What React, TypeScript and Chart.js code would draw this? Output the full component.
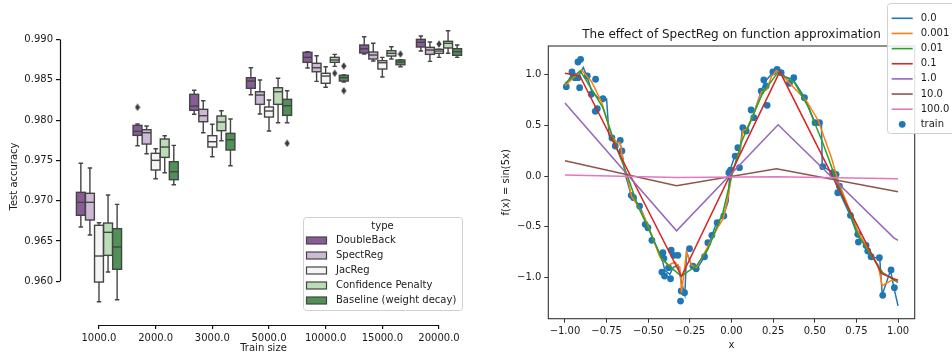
import React, { useEffect, useRef } from 'react';
import { Chart, registerables } from 'chart.js';
Chart.register(...registerables);

// ---------------- data: left panel ----------------
const trainSizes = ['1000.0', '2000.0', '3000.0', '5000.0', '10000.0', '15000.0', '20000.0'];
const methods = ['DoubleBack', 'SpectReg', 'JacReg', 'Confidence Penalty', 'Baseline (weight decay)'];
const methodColors = ['#885c96', '#ccb9d4', '#f5f5f5', '#bbdcb7', '#509158'];
const yTicksLeft = [0.96, 0.965, 0.97, 0.975, 0.98, 0.985, 0.99];

// [whisker low, q1, median, q3, whisker high] per train size
const doubleBack = [
  [0.96674, 0.96819, 0.9698, 0.97104, 0.97464],
  [0.97682, 0.97811, 0.97861, 0.97935, 0.97952],
  [0.98072, 0.98122, 0.98175, 0.9832, 0.9837],
  [0.98315, 0.98395, 0.98485, 0.98526, 0.9865],
  [0.98646, 0.98717, 0.98779, 0.98841, 0.9885],
  [0.9882, 0.98833, 0.98886, 0.98932, 0.99035],
  [0.98857, 0.98907, 0.98965, 0.99002, 0.99043],
];
const spectReg = [
  [0.96574, 0.96761, 0.9698, 0.97092, 0.97406],
  [0.97583, 0.97703, 0.97844, 0.97881, 0.97927],
  [0.97844, 0.9798, 0.98055, 0.98134, 0.98241],
  [0.98076, 0.98196, 0.98311, 0.98352, 0.98498],
  [0.98481, 0.986, 0.9865, 0.98705, 0.98799],
  [0.98733, 0.98758, 0.98808, 0.98845, 0.98953],
  [0.98729, 0.98816, 0.9887, 0.98903, 0.98969],
];
const jacReg = [
  [0.95747, 0.95991, 0.96314, 0.96695, 0.96727],
  [0.97273, 0.97381, 0.97501, 0.97588, 0.97645],
  [0.97546, 0.97666, 0.97732, 0.97807, 0.97948],
  [0.97865, 0.98038, 0.98113, 0.98163, 0.9825],
  [0.98407, 0.98457, 0.98547, 0.98581, 0.98662],
  [0.98535, 0.98634, 0.98712, 0.98737, 0.98779],
  [0.98779, 0.98829, 0.98857, 0.98878, 0.9888],
];
const confPenalty = [
  [0.96115, 0.96322, 0.96608, 0.96723, 0.97071],
  [0.97347, 0.97538, 0.97666, 0.97766, 0.97807],
  [0.97744, 0.97869, 0.97976, 0.98051, 0.98117],
  [0.97968, 0.98196, 0.98352, 0.98402, 0.98519],
  [0.98667, 0.98717, 0.98746, 0.98779, 0.98816],
  [0.98758, 0.98795, 0.98829, 0.98861, 0.98911],
  [0.98829, 0.98895, 0.98953, 0.98978, 0.99109],
];
const baseline = [
  [0.95772, 0.96149, 0.96426, 0.96653, 0.96955],
  [0.97199, 0.97261, 0.9736, 0.97484, 0.97687],
  [0.97434, 0.97629, 0.97757, 0.97836, 0.98014],
  [0.97968, 0.98059, 0.98179, 0.98258, 0.98365],
  [0.98473, 0.98485, 0.98526, 0.98556, 0.9856],
  [0.98662, 0.98687, 0.98721, 0.98746, 0.9875],
  [0.98779, 0.98804, 0.98849, 0.98886, 0.98932],
];
const boxSeries = [doubleBack, spectReg, jacReg, confPenalty, baseline];
// [method index, train-size index, value]
const outliers = [
  [0, 1, 0.98159],
  [4, 3, 0.97712],
  [3, 4, 0.98581],
  [4, 4, 0.98671],
  [4, 4, 0.98365],
  [4, 5, 0.9882],
  [2, 6, 0.98944],
];

// ---------------- data: right panel ----------------
const lambdas = ['0.0', '0.001', '0.01', '0.1', '1.0', '10.0', '100.0'];
const lineColors = ['#1f77b4', '#ff7f0e', '#2ca02c', '#d62728', '#9467bd', '#8c564b', '#e377c2'];
const xTicksRight = [-1, -0.75, -0.5, -0.25, 0, 0.25, 0.5, 0.75, 1];
const yTicksRight = [-1, -0.5, 0, 0.5, 1];

const fit0 = [
  [-1, 0.88], [-0.96, 1.0], [-0.92, 0.98], [-0.89, 1.07], [-0.87, 0.99], [-0.84, 0.84], [-0.8, 0.77],
  [-0.75, 0.76], [-0.735, 0.4], [-0.7, 0.33], [-0.67, 0.34], [-0.66, 0.25], [-0.635, 0.0], [-0.6, -0.2],
  [-0.55, -0.3], [-0.5, -0.5], [-0.47, -0.63], [-0.42, -0.8], [-0.4, -0.93], [-0.37, -0.97], [-0.35, -0.9],
  [-0.32, -0.88], [-0.3, -1.05], [-0.28, -1.17], [-0.27, -0.75], [-0.24, -0.88], [-0.21, -0.92],
  [-0.16, -0.79], [-0.12, -0.6], [-0.09, -0.46], [-0.05, -0.4], [-0.02, -0.25], [-0.01, 0.05], [0.02, 0.2],
  [0.05, 0.22], [0.065, 0.47], [0.09, 0.44], [0.13, 0.6], [0.18, 0.84], [0.2, 0.93], [0.25, 1.02],
  [0.28, 1.05], [0.32, 0.98], [0.37, 0.95], [0.44, 0.77], [0.5, 0.53], [0.54, 0.52], [0.545, 0.1],
  [0.6, 0.04], [0.64, -0.13], [0.71, -0.38], [0.76, -0.6], [0.81, -0.69], [0.84, -0.8], [0.89, -0.81],
  [0.905, -1.17], [0.955, -0.93], [0.975, -1.1], [1.0, -1.28],
];
const fit0001 = [
  [-1, 0.89], [-0.9, 1.045], [-0.84, 0.93], [-0.78, 0.73], [-0.72, 0.4], [-0.69, 0.33], [-0.67, 0.33],
  [-0.64, 0.05], [-0.62, -0.05], [-0.6, -0.2], [-0.58, -0.25], [-0.53, -0.38], [-0.48, -0.58], [-0.43, -0.8],
  [-0.38, -0.88], [-0.34, -0.85], [-0.31, -0.9], [-0.3, -1.15], [-0.27, -0.75], [-0.24, -0.88], [-0.21, -0.9],
  [-0.15, -0.72], [-0.08, -0.5], [-0.05, -0.42], [-0.02, -0.2], [0, 0], [0.05, 0.25], [0.07, 0.45],
  [0.09, 0.46], [0.13, 0.6], [0.18, 0.83], [0.21, 0.85], [0.24, 0.98], [0.27, 1.04], [0.33, 0.95],
  [0.45, 0.74], [0.52, 0.55], [0.6, 0.18], [0.64, -0.05], [0.72, -0.38], [0.76, -0.55], [0.82, -0.72],
  [0.88, -0.88], [0.905, -1.08], [0.96, -1.03], [1, -1.02],
];
const fit001 = [
  [-1, 0.914], [-0.908, 1.036], [-0.772, 0.674], [-0.702, 0.328], [-0.628, 0.017], [-0.562, -0.296],
  [-0.482, -0.575], [-0.422, -0.806], [-0.362, -0.904], [-0.302, -0.986], [-0.212, -0.888], [-0.142, -0.723],
  [-0.052, -0.362], [-0.002, -0.017], [0.058, 0.328], [0.128, 0.592], [0.188, 0.821], [0.278, 1.019],
  [0.378, 0.92], [0.458, 0.69], [0.548, 0.328], [0.628, -0.033], [0.718, -0.394], [0.758, -0.575],
  [0.808, -0.707], [0.908, -0.953], [1, -1.052],
];
const fit01 = [[-1, 1.013], [-0.91, 0.985], [-0.3, -0.99], [0.29, 1.03], [0.9, -0.96], [1, -1.03]];
const fit1 = [[-1, 0.72], [-0.33, -0.54], [0.28, 0.505], [0.975, -0.61], [1, -0.635]];
const fit10 = [[-1, 0.15], [-0.33, -0.097], [0.27, 0.072], [1, -0.155]];
const fit100 = [[-1, 0.01], [-0.33, -0.015], [0.27, -0.008], [1, -0.027]];
const fits = [fit0, fit0001, fit001, fit01, fit1, fit10, fit100];

const trainPts = [
  [-0.992, 0.881], [-0.958, 1.026], [-0.95, 0.99], [-0.94, 0.97], [-0.922, 1.124], [-0.906, 1.151],
  [-0.922, 0.97], [-0.912, 0.871], [-0.866, 0.986], [-0.816, 0.954], [-0.842, 0.806], [-0.772, 0.762],
  [-0.818, 0.638], [-0.806, 0.664], [-0.718, 0.375], [-0.668, 0.352], [-0.698, 0.296], [-0.658, 0.247],
  [-0.602, -0.19], [-0.588, -0.214], [-0.552, -0.296], [-0.518, -0.476], [-0.502, -0.51], [-0.478, -0.634],
  [-0.412, -0.756], [-0.406, -0.812], [-0.362, -0.73], [-0.346, -0.782], [-0.322, -0.782], [-0.418, -0.947],
  [-0.402, -0.986], [-0.366, -1.013], [-0.378, -0.904], [-0.306, -1.233], [-0.302, -1.134], [-0.282, -1.151],
  [-0.252, -0.717], [-0.232, -0.888], [-0.212, -0.914], [-0.162, -0.796], [-0.142, -0.658], [-0.118, -0.585],
  [-0.086, -0.46], [-0.046, -0.394], [-0.006, 0.059], [-0.016, 0.033], [0.022, 0.197], [0.038, 0.279],
  [0.048, 0.082], [0.068, 0.476], [0.088, 0.444], [0.118, 0.651], [0.134, 0.575], [0.178, 0.838],
  [0.194, 0.947], [0.214, 0.697], [0.208, 0.888], [0.248, 1.026], [0.274, 1.052], [0.298, 1.019],
  [0.348, 0.914], [0.374, 0.97], [0.438, 0.772], [0.502, 0.526], [0.528, 0.526], [0.548, 0.092],
  [0.608, 0.033], [0.628, 0.017], [0.638, -0.165], [0.648, -0.099], [0.714, -0.388], [0.758, -0.575],
  [0.762, -0.651], [0.808, -0.684], [0.818, -0.74], [0.838, -0.796], [0.888, -0.806], [0.908, -1.177],
  [0.958, -0.927], [0.978, -1.101],
];

// ---------------- styling ----------------
const FONT = '"DejaVu Sans", sans-serif';
const TXT = '#1a1a1a';
const EDGE = '#444444';
const HUE_STEP = 0.16;
Chart.defaults.font.family = FONT;
Chart.defaults.font.size = 10;
Chart.defaults.color = TXT;

const fmtMinus = (s: string) => s.replace('-', '\u2212');

function makeDiamond() {
  const c = document.createElement('canvas');
  c.width = 6; c.height = 8;
  const g = c.getContext('2d')!;
  g.fillStyle = '#3c3c3c';
  g.beginPath();
  g.moveTo(3, 0.3); g.lineTo(5.6, 4); g.lineTo(3, 7.7); g.lineTo(0.4, 4);
  g.closePath(); g.fill();
  return c;
}

const boxPlugin = {
  id: 'boxes',
  beforeDatasetsDraw(chart: any) {
    const { ctx, scales: { x, y } } = chart;
    ctx.save();
    ctx.lineWidth = 1.4;
    ctx.strokeStyle = EDGE;
    boxSeries.forEach((series, k) => {
      series.forEach((st, g) => {
        const c = g + (k - 2) * HUE_STEP;
        const l = x.getPixelForValue(c - HUE_STEP * 0.49);
        const r = x.getPixelForValue(c + HUE_STEP * 0.49);
        const cl = x.getPixelForValue(c - HUE_STEP * 0.245);
        const cr = x.getPixelForValue(c + HUE_STEP * 0.245);
        const xc = x.getPixelForValue(c);
        const [lo, q1, med, q3, hi] = st.map((v) => y.getPixelForValue(v));
        ctx.beginPath();
        ctx.moveTo(xc, q1); ctx.lineTo(xc, lo);
        ctx.moveTo(xc, q3); ctx.lineTo(xc, hi);
        ctx.moveTo(cl, lo); ctx.lineTo(cr, lo);
        ctx.moveTo(cl, hi); ctx.lineTo(cr, hi);
        ctx.stroke();
        ctx.fillStyle = methodColors[k];
        ctx.fillRect(l, q3, r - l, q1 - q3);
        ctx.strokeRect(l, q3, r - l, q1 - q3);
        ctx.beginPath();
        ctx.moveTo(l, med); ctx.lineTo(r, med);
        ctx.stroke();
      });
    });
    ctx.restore();
  },
};

const leftDecor = {
  id: 'leftDecor',
  afterDraw(chart: any) {
    const { ctx, chartArea, scales: { x, y } } = chart;
    ctx.save();
    ctx.strokeStyle = '#111';
    ctx.lineWidth = 1.2;
    ctx.beginPath();
    const lx = Math.round(chartArea.left) + 0.5;
    ctx.moveTo(lx, y.getPixelForValue(yTicksLeft[yTicksLeft.length - 1]));
    ctx.lineTo(lx, y.getPixelForValue(yTicksLeft[0]));
    const by = Math.round(chartArea.bottom) + 0.5;
    ctx.moveTo(x.getPixelForValue(0), by);
    ctx.lineTo(x.getPixelForValue(trainSizes.length - 1), by);
    ctx.stroke();

    // legend
    const bx = 303, bt = 217, bw = 159, bh = 93;
    ctx.fillStyle = 'rgba(255,255,255,0.85)';
    ctx.strokeStyle = '#d0d0d0';
    ctx.lineWidth = 1;
    ctx.beginPath();
    ctx.roundRect(bx + 0.5, bt + 0.5, bw, bh, 3);
    ctx.fill(); ctx.stroke();
    ctx.font = `10px ${FONT}`;
    ctx.fillStyle = TXT;
    ctx.textAlign = 'center';
    ctx.textBaseline = 'middle';
    ctx.fillText('type', bx + bw / 2, bt + 9.5);
    ctx.textAlign = 'left';
    methods.forEach((m, i) => {
      const cy = bt + 23.5 + i * 15;
      ctx.fillStyle = methodColors[i];
      ctx.fillRect(bx + 3.5, cy - 3.5, 20, 7);
      ctx.strokeStyle = EDGE;
      ctx.lineWidth = 1.2;
      ctx.strokeRect(bx + 3.5, cy - 3.5, 20, 7);
      ctx.fillStyle = TXT;
      ctx.fillText(m, bx + 33, cy);
    });
    ctx.restore();
  },
};

const rightDecor = {
  id: 'rightDecor',
  afterDraw(chart: any) {
    const { ctx, chartArea } = chart;
    ctx.save();
    ctx.strokeStyle = '#333';
    ctx.lineWidth = 1.1;
    ctx.strokeRect(chartArea.left, chartArea.top, chartArea.right - chartArea.left, chartArea.bottom - chartArea.top);
    ctx.font = `12px ${FONT}`;
    ctx.fillStyle = TXT;
    ctx.textAlign = 'center';
    ctx.textBaseline = 'middle';
    ctx.fillText('The effect of SpectReg on function approximation', (chartArea.left + chartArea.right) / 2, chartArea.top - 11);

    // legend
    const bx = 411, bt = 3, bw = 80, bh = 130;
    ctx.fillStyle = 'rgba(255,255,255,0.85)';
    ctx.strokeStyle = '#d0d0d0';
    ctx.lineWidth = 1;
    ctx.beginPath();
    ctx.roundRect(bx + 0.5, bt + 0.5, bw, bh, 3);
    ctx.fill(); ctx.stroke();
    ctx.font = `10px ${FONT}`;
    ctx.textAlign = 'left';
    const labels = [...lambdas, 'train'];
    labels.forEach((lab, i) => {
      const cy = bt + 15.3 + i * 15.15;
      if (i < lambdas.length) {
        ctx.strokeStyle = lineColors[i];
        ctx.lineWidth = 1.6;
        ctx.beginPath();
        ctx.moveTo(bx + 4.7, cy); ctx.lineTo(bx + 25.7, cy);
        ctx.stroke();
      } else {
        ctx.fillStyle = lineColors[0];
        ctx.beginPath();
        ctx.arc(bx + 15.2, cy, 3.4, 0, Math.PI * 2);
        ctx.fill();
      }
      ctx.fillStyle = TXT;
      ctx.fillText(lab, bx + 33.7, cy);
    });
    ctx.restore();
  },
};

export default function App() {
  const leftRef = useRef<HTMLCanvasElement>(null);
  const rightRef = useRef<HTMLCanvasElement>(null);

  useEffect(() => {
    const diamond = makeDiamond();
    const left = new Chart(leftRef.current!, {
      type: 'scatter',
      data: {
        datasets: [
          {
            label: 'outliers',
            data: outliers.map(([k, g, v]) => ({ x: g + (k - 2) * HUE_STEP, y: v })),
            pointStyle: diamond as any,
            pointRadius: 3,
            backgroundColor: '#3c3c3c',
            borderColor: '#3c3c3c',
          },
        ],
      },
      options: {
        animation: false,
        responsive: false,
        events: [],
        layout: { padding: { left: 0, right: 9, top: 28, bottom: 0 } },
        plugins: { legend: { display: false }, tooltip: { enabled: false } },
        scales: {
          x: {
            type: 'linear',
            min: -0.688,
            max: 6.494,
            afterBuildTicks: (s: any) => { s.ticks = trainSizes.map((_, i) => ({ value: i })); },
            afterFit: (s: any) => { s.height = 30; },
            ticks: { callback: (_v: any, i: number) => trainSizes[i], autoSkip: false, maxRotation: 0, padding: 3, color: TXT },
            grid: { drawOnChartArea: false, tickLength: 4, color: '#111', lineWidth: 1.2 },
            border: { display: false },
            title: { display: true, text: 'Train size', color: TXT, padding: { top: 0, bottom: 1 } },
          },
          y: {
            type: 'linear',
            min: 0.95458,
            max: 0.99143,
            afterBuildTicks: (s: any) => { s.ticks = yTicksLeft.map((v) => ({ value: v })); },
            afterFit: (s: any) => { s.width = 60; },
            ticks: { callback: (v: any) => Number(v).toFixed(3), padding: 3, color: TXT },
            grid: { drawOnChartArea: false, tickLength: 4, color: '#111', lineWidth: 1.2 },
            border: { display: false },
            title: { display: true, text: 'Test accuracy', color: TXT, padding: { top: 8, bottom: 0 } },
          },
        },
      },
      plugins: [boxPlugin, leftDecor],
    });

    const lineSets = fits.map((f, i) => ({
      label: lambdas[i],
      data: f.map(([x, y]) => ({ x, y })),
      showLine: true,
      borderColor: lineColors[i],
      backgroundColor: lineColors[i],
      borderWidth: 1.5,
      pointRadius: 0,
      tension: 0,
      order: lambdas.length - i,
    }));
    const right = new Chart(rightRef.current!, {
      type: 'scatter',
      data: {
        datasets: [
          ...lineSets,
          {
            label: 'train',
            data: trainPts.map(([x, y]) => ({ x, y })),
            pointRadius: 3.4,
            pointBorderWidth: 0,
            borderWidth: 0,
            backgroundColor: lineColors[0],
            borderColor: lineColors[0],
            order: lambdas.length + 1,
          } as any,
        ],
      },
      options: {
        animation: false,
        responsive: false,
        events: [],
        layout: { padding: { left: 0, right: 37.3, top: 46, bottom: 0 } },
        plugins: { legend: { display: false }, tooltip: { enabled: false } },
        scales: {
          x: {
            type: 'linear',
            min: -1.1,
            max: 1.1,
            afterBuildTicks: (s: any) => { s.ticks = xTicksRight.map((v) => ({ value: v })); },
            afterFit: (s: any) => { s.height = 36.3; },
            ticks: { callback: (v: any) => fmtMinus(Number(v).toFixed(2)), autoSkip: false, maxRotation: 0, padding: 3, color: TXT },
            grid: { drawOnChartArea: false, tickLength: 4, color: '#333', lineWidth: 1 },
            border: { display: false },
            title: { display: true, text: 'x', color: TXT, padding: { top: 0, bottom: 4 } },
          },
          y: {
            type: 'linear',
            min: -1.407,
            max: 1.282,
            afterBuildTicks: (s: any) => { s.ticks = yTicksRight.map((v) => ({ value: v })); },
            afterFit: (s: any) => { s.width = 72.3; },
            ticks: { callback: (v: any) => fmtMinus(Number(v).toFixed(1)), padding: 3, color: TXT },
            grid: { drawOnChartArea: false, tickLength: 4, color: '#333', lineWidth: 1 },
            border: { display: false },
            title: { display: true, text: 'f(x) = sin(5x)', color: TXT, padding: { top: 24.5, bottom: 0 } },
          },
        },
      },
      plugins: [rightDecor],
    });

    return () => {
      left.destroy();
      right.destroy();
    };
  }, []);

  return (
    <div style={{ position: 'fixed', left: 0, top: 0, width: 952, height: 355, background: '#fff' }}>
      <canvas ref={leftRef} width={476} height={355} style={{ position: 'absolute', left: 0, top: 0, width: 476, height: 355 }} />
      <canvas ref={rightRef} width={476} height={355} style={{ position: 'absolute', left: 476, top: 0, width: 476, height: 355 }} />
    </div>
  );
}
